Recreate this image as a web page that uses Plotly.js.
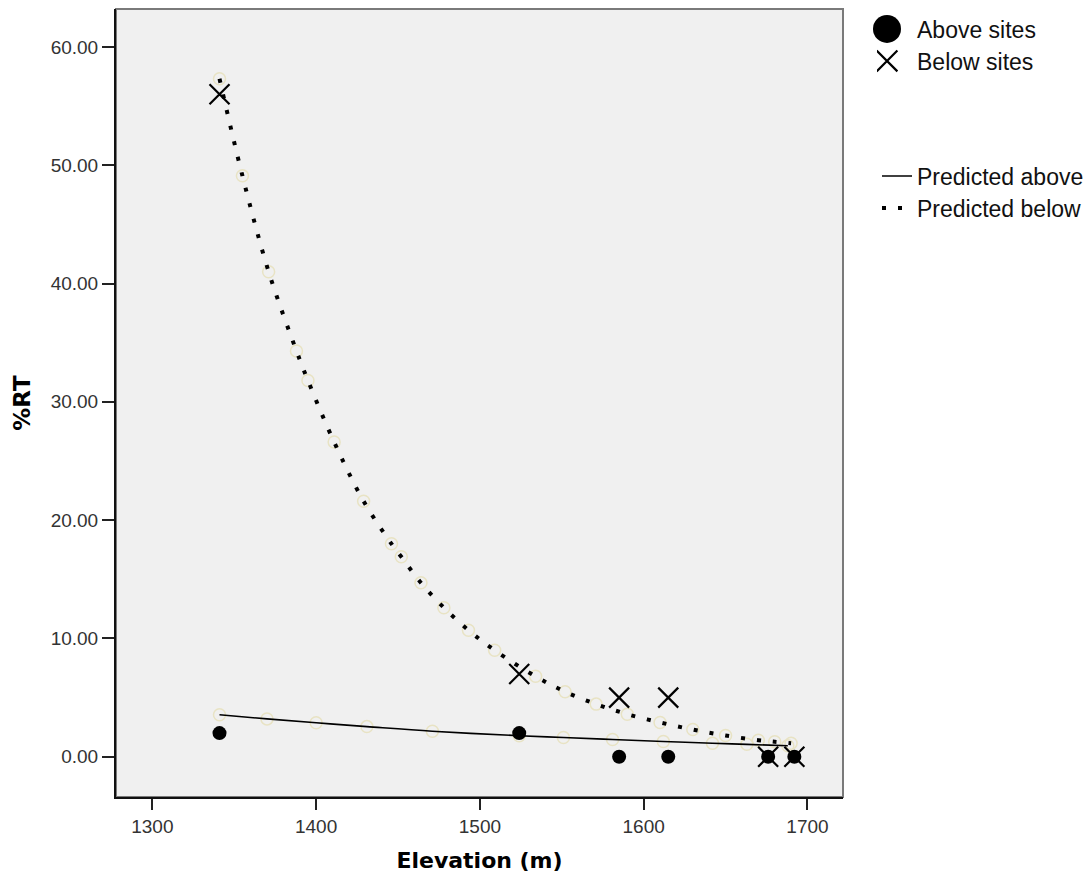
<!DOCTYPE html>
<html>
<head>
<meta charset="utf-8">
<script src="https://cdn.plot.ly/plotly-3.0.1.min.js"></script>
<style>
  html, body { margin: 0; padding: 0; background: #ffffff; }
  #chart { width: 1091px; height: 880px; }
</style>
</head>
<body>
<div id="chart"></div>
<script>
// Observed sites: elevation (m) and percentage RT
const siteElevation = [1341, 1524, 1585, 1615, 1676, 1692];
const aboveRT = [2, 2, 0, 0, 0, 0];
const belowRT = [56, 7, 5, 5, 0, 0];

// Fitted curves
const predAboveElev = [1341, 1370, 1400, 1431, 1471, 1524, 1551, 1581, 1612, 1642, 1663, 1688];
const predAboveRT   = [3.55, 3.2, 2.87, 2.55, 2.16, 1.78, 1.63, 1.46, 1.29, 1.14, 1.05, 0.93];

const predBelowElev = [1341, 1355, 1371, 1388, 1395, 1411, 1429, 1446, 1452, 1464, 1478, 1493,
                       1509, 1534, 1552, 1571, 1590, 1610, 1630, 1650, 1670, 1680, 1690];
const predBelowRT   = [57.3, 49.1, 41.0, 34.3, 31.8, 26.6, 21.6, 18.0, 16.9, 14.7, 12.6, 10.7,
                       9.0, 6.8, 5.5, 4.45, 3.6, 2.9, 2.3, 1.8, 1.4, 1.27, 1.15];

// Axis ticks
const xTicks = [1300, 1400, 1500, 1600, 1700];
const yTicks = [0, 10, 20, 30, 40, 50, 60];

// Pale rings marking the points each fitted curve passes through
function haloTrace(xs, ys) {
  return {
    x: xs, y: ys, mode: 'markers', hoverinfo: 'skip', showlegend: false,
    marker: { symbol: 'circle-open', size: 12, color: '#e8e3c4', line: { width: 1.5, color: '#e8e3c4' } }
  };
}

const traces = [
  haloTrace(predBelowElev, predBelowRT),
  haloTrace(predAboveElev, predAboveRT),
  {
    x: predAboveElev, y: predAboveRT, name: 'Predicted above', mode: 'lines',
    line: { color: '#000000', width: 1.6, shape: 'spline' }, legend: 'legend3'
  },
  {
    x: predBelowElev, y: predBelowRT, name: 'Predicted below', mode: 'lines',
    line: { color: '#000000', width: 4, dash: '4px,12px', shape: 'spline' }, legend: 'legend4'
  },
  {
    x: siteElevation, y: aboveRT, name: 'Above sites', mode: 'markers',
    marker: { symbol: 'circle', size: 14, color: '#000000' }, legend: 'legend'
  },
  {
    x: siteElevation, y: belowRT, name: 'Below sites', mode: 'markers',
    marker: { symbol: 'x-thin-open', size: 20, color: '#000000', line: { width: 2.2, color: '#000000' } },
    legend: 'legend2'
  }
];

const legendFont = { family: 'Liberation Sans, Arial, sans-serif', size: 23, color: '#111111' };
function legendAt(yPx) {
  return {
    xref: 'container', yref: 'container',
    x: (917 - 40) / 1091, y: 1 - yPx / 880,
    xanchor: 'left', yanchor: 'middle',
    bgcolor: 'rgba(0,0,0,0)', borderwidth: 0,
    font: legendFont
  };
}

const layout = {
  width: 1091, height: 880,
  paper_bgcolor: '#ffffff', plot_bgcolor: '#f0f0f0',
  margin: { l: 116, r: 248, t: 9, b: 83 },
  showlegend: true,
  legend: legendAt(29),
  legend2: legendAt(61),
  legend3: legendAt(176),
  legend4: legendAt(208),
  xaxis: {
    range: [1277.8, 1721.7], tickvals: xTicks, ticks: 'outside', ticklen: 11, tickwidth: 2,
    tickcolor: '#222222', showline: true, linecolor: '#111111', linewidth: 2,
    showgrid: false, zeroline: false,
    tickfont: { family: 'Liberation Sans, Arial, sans-serif', size: 19, color: '#333333' },
    title: { text: 'Elevation (m)', standoff: 17,
             font: { family: 'DejaVu Sans, sans-serif', size: 22, weight: 'bold', color: '#000000' } }
  },
  yaxis: {
    range: [-3.4, 63.2], tickvals: yTicks, tickformat: '.2f', ticks: 'outside', ticklen: 12, tickwidth: 2,
    tickcolor: '#222222', showline: true, linecolor: '#111111', linewidth: 2,
    showgrid: false, zeroline: false,
    tickfont: { family: 'Liberation Sans, Arial, sans-serif', size: 19, color: '#333333' },
    title: { text: '%RT', standoff: 14,
             font: { family: 'DejaVu Sans, sans-serif', size: 23, weight: 'bold', color: '#000000' } }
  },
  shapes: [{
    type: 'rect', xref: 'paper', yref: 'paper', x0: 0, x1: 1, y0: 0, y1: 1,
    line: { color: '#7a7a7a', width: 2 }, layer: 'below'
  }]
};

Plotly.newPlot('chart', traces, layout, { displayModeBar: false, staticPlot: true }).then(function (gd) {
  // Let enlarged legend keys extend past the legend box
  gd.querySelectorAll('.legend [clip-path]').forEach(function (el) {
    el.removeAttribute('clip-path');
  });
  // Legend keys: shift symbols a little left and enlarge the marker keys
  gd.querySelectorAll('.legendsymbols').forEach(function (g) {
    g.setAttribute('transform', 'translate(-10,0)');
  });
  gd.querySelectorAll('.legendpoints path.scatterpts').forEach(function (p) {
    const tr = p.getAttribute('transform') || '';
    const isCircle = /A/.test(p.getAttribute('d') || '');
    const k = isCircle ? 2.0 : 1.3;
    p.setAttribute('transform', tr + ' scale(' + k + ')');
    p.style.vectorEffect = 'non-scaling-stroke';
  });
});
</script>
</body>
</html>
